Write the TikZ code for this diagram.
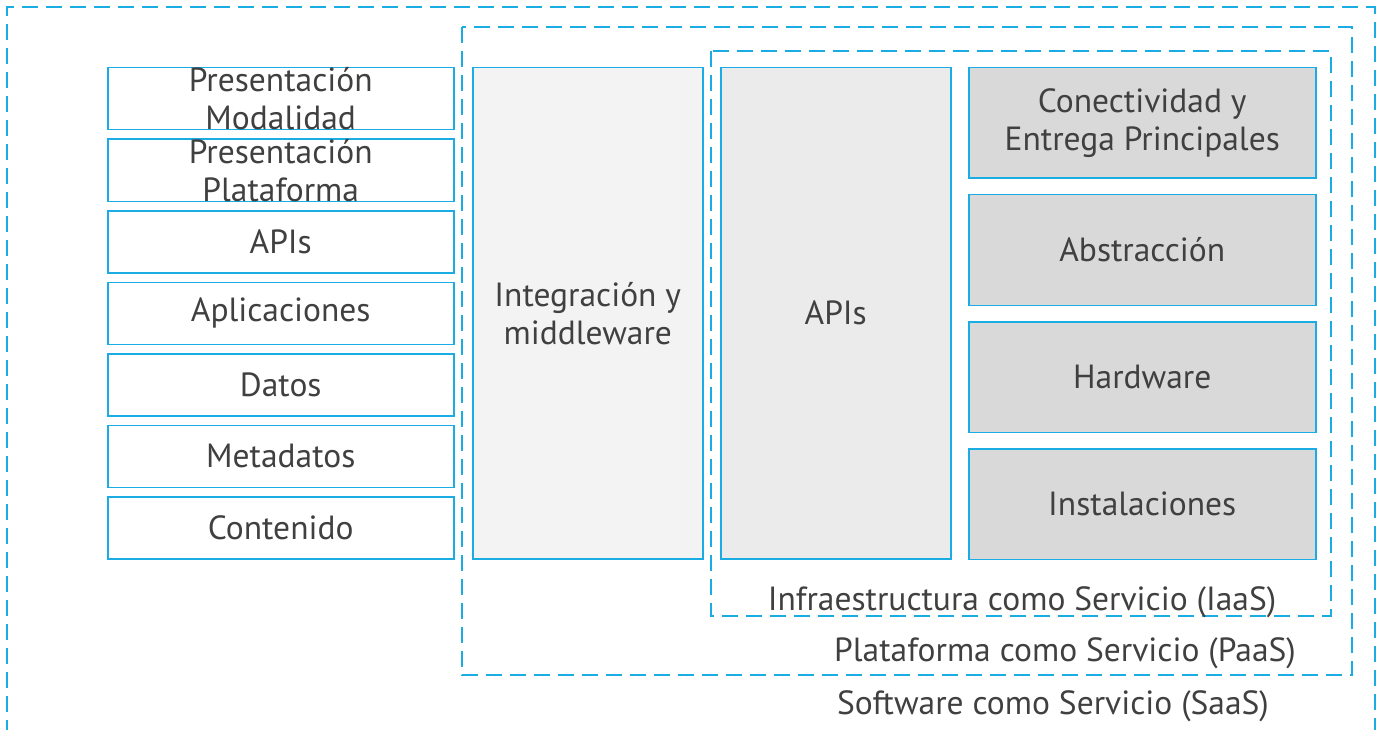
\documentclass[tikz,border=0pt]{standalone}
\usepackage{fontspec}
\setmainfont{PT Sans}
\definecolor{bl}{HTML}{1AACE3}
\definecolor{tx}{HTML}{404040}
\definecolor{fa}{HTML}{F3F3F3}
\definecolor{fb}{HTML}{EBEBEB}
\definecolor{fc}{HTML}{D9D9D9}
\begin{document}
\begin{tikzpicture}[x=1pt,y=-1pt,
  box/.style={draw=bl,line width=1.5pt,inner sep=0pt,anchor=north west},
  dbox/.style={draw=bl,line width=2pt,dash pattern=on 16pt off 8pt},
  txt/.style={text=tx,font=\fontsize{33.5}{38}\selectfont,align=center,inner sep=0pt}]
\useasboundingbox (0,0) rectangle (1383,730);
\clip (0,0) rectangle (1383,730);
\fill[white] (0,0) rectangle (1383,730);
% containers
\draw[dbox] (7,760) -- (7,7) -- (1375,7) -- (1375,760);
\draw[dbox] (462,27) rectangle (1352,675);
\draw[dbox] (711,51) rectangle (1331,616);
% left column
\foreach \n/\y in {m1/67,m2/138.5,m3/210,m4/281.5,m5/353,m6/424.5,m7/496}{
  \node[box,minimum width=346pt,minimum height=62pt] (\n) at (107,\y) {};
}
\node[txt] (t1) at (m1) {Presentación\\Modalidad};
\node[txt] (t2) at (m2) {Presentación\\Plataforma};
\node[txt] (t3) at (m3) {APIs};
\node[txt] (t4) at (m4) {Aplicaciones};
\node[txt] (t5) at (m5) {Datos};
\node[txt] (t6) at (m6) {Metadatos};
\node[txt] (t7) at (m7) {Contenido};
% middle
\node[box,fill=fa,minimum width=230pt,minimum height=491pt] (int) at (472,67) {};
\node[txt] (tint) at (int) {Integración y\\middleware};
\node[box,fill=fb,minimum width=230pt,minimum height=491pt] (api) at (720,67) {};
\node[txt] (tapi) at (api) {APIs};
% right column
\foreach \n/\y in {r1/67,r2/194,r3/321,r4/448}{
  \node[box,fill=fc,minimum width=347pt,minimum height=110.5pt] (\n) at (968,\y) {};
}
\node[txt] (tr1) at (r1) {Conectividad y\\Entrega Principales};
\node[txt] (tr2) at (r2) {Abstracción};
\node[txt] (tr3) at (r3) {Hardware};
\node[txt] (tr4) at (r4) {Instalaciones};
% labels
\node[txt] (liaas) at (1022,602) {Infraestructura como Servicio (IaaS)};
\node[txt] (lpaas) at (1065,653) {Plataforma como Servicio (PaaS)};
\node[txt] (lsaas) at (1053,706) {Software como Servicio (SaaS)};
\end{tikzpicture}
\end{document}
